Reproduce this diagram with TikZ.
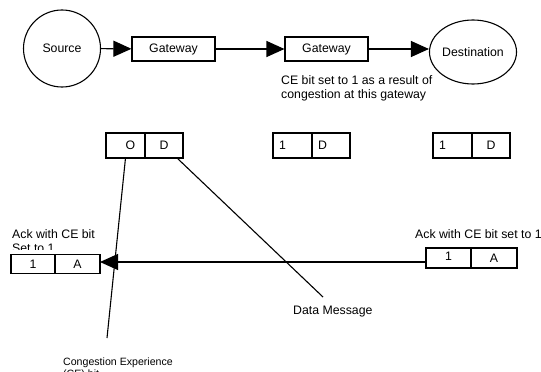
\documentclass[tikz,border=0pt]{standalone}
\usepackage{fontspec}
\setmainfont{Liberation Sans}
\usetikzlibrary{shapes,arrows,positioning,calc,arrows.meta}

\begin{document}
\begin{tikzpicture}[x=1pt, y=-1pt,
    every node/.style={font=\fontsize{12.3}{14}\selectfont},
    small/.style={font=\fontsize{10.6}{11.2}\selectfont},
    flow/.style={line width=1.1pt, -{Triangle[length=18pt, width=16pt]}},
    link/.style={line width=1.1pt},
    host/.style={draw, line width=1.1pt, inner sep=0pt},
    gate/.style={draw, line width=1.1pt, minimum width=83pt, minimum height=24pt, inner sep=0pt},
    cell/.style={draw, fill=white, line width=1.1pt, outer sep=0pt, inner xsep=6pt, inner ysep=0pt, minimum height=25pt},
    note/.style={align=left, inner sep=0pt}]
    \useasboundingbox (0,0) rectangle (541,372);
    \clip (0,0) rectangle (541,372);

    \node[host, circle, minimum size=77pt] (src) at (62,48.5) {Source};
    \node[gate] (gw1) at (173.5,49) {Gateway};
    \node[gate] (gw2) at (326.5,49) {Gateway};
    \node[host, ellipse, minimum width=82pt, minimum height=64pt] (dst) at (473,52) {Destination};
    \node[note, anchor=west] (cenote) at (281,88) {CE bit set to 1 as a result of\\congestion at this gateway};

    \draw[flow] (src) -- (gw1);
    \draw[flow] (gw1) -- (gw2);
    \draw[flow] (gw2.east) -- (gw2.east -| dst.west);

    \node[cell, text width=27pt, align=center] (od1) at (125.5,145.5) {\hspace*{10pt}O};
    \node[cell, text width=26pt, align=center, right=0pt of od1] (od2) {D};
    \node[cell, text width=27pt, align=left] (d1a) at (292.5,145.5) {1};
    \node[cell, text width=26pt, align=left, right=0pt of d1a] (d1b) {D};
    \node[cell, text width=27pt, align=left] (d2a) at (452.5,145.5) {1};
    \node[cell, text width=26pt, align=center, right=0pt of d2a] (d2b) {D};

    \begin{scope}
        \clip (0,220) rectangle (120,249);
        \node[note, anchor=west] (ackltxt) at (12,241) {Ack with CE bit\\Set to 1};
    \end{scope}
    \node[note, anchor=west] (ackrtxt) at (415,234) {Ack with CE bit set to 1};

    \node[cell, minimum height=19pt, text width=32pt, align=center] (ackl1) at (33,264) {1};
    \node[cell, minimum height=19pt, text width=33pt, align=center, right=0pt of ackl1] (ackl2) {A};
    \node[cell, minimum height=20pt, text width=33pt, align=center] (ackr1) at (448.5,258) {\raisebox{3pt}{1}};
    \node[cell, minimum height=20pt, text width=34pt, align=center, right=0pt of ackr1] (ackr2) {\raisebox{-2pt}{A}};

    \coordinate (ackin) at ([yshift=-4pt]ackr1.west);
    \draw[flow] (ackin) -- (ackin -| ackl2.east);

    \node[note, anchor=west] (dmsg) at (293,312) {Data Message};
    \node[note, small, anchor=north west] (cebit) at (63,358) {Congestion Experience\\(CE) bit};
    \coordinate (dmtip) at (323,297);
    \coordinate (cetip) at (107,338);

    \draw[link] ([xshift=-6pt]od2.south east) -- (dmtip);
    \draw[link] (od1.south) -- (cetip);
\end{tikzpicture}
\end{document}
